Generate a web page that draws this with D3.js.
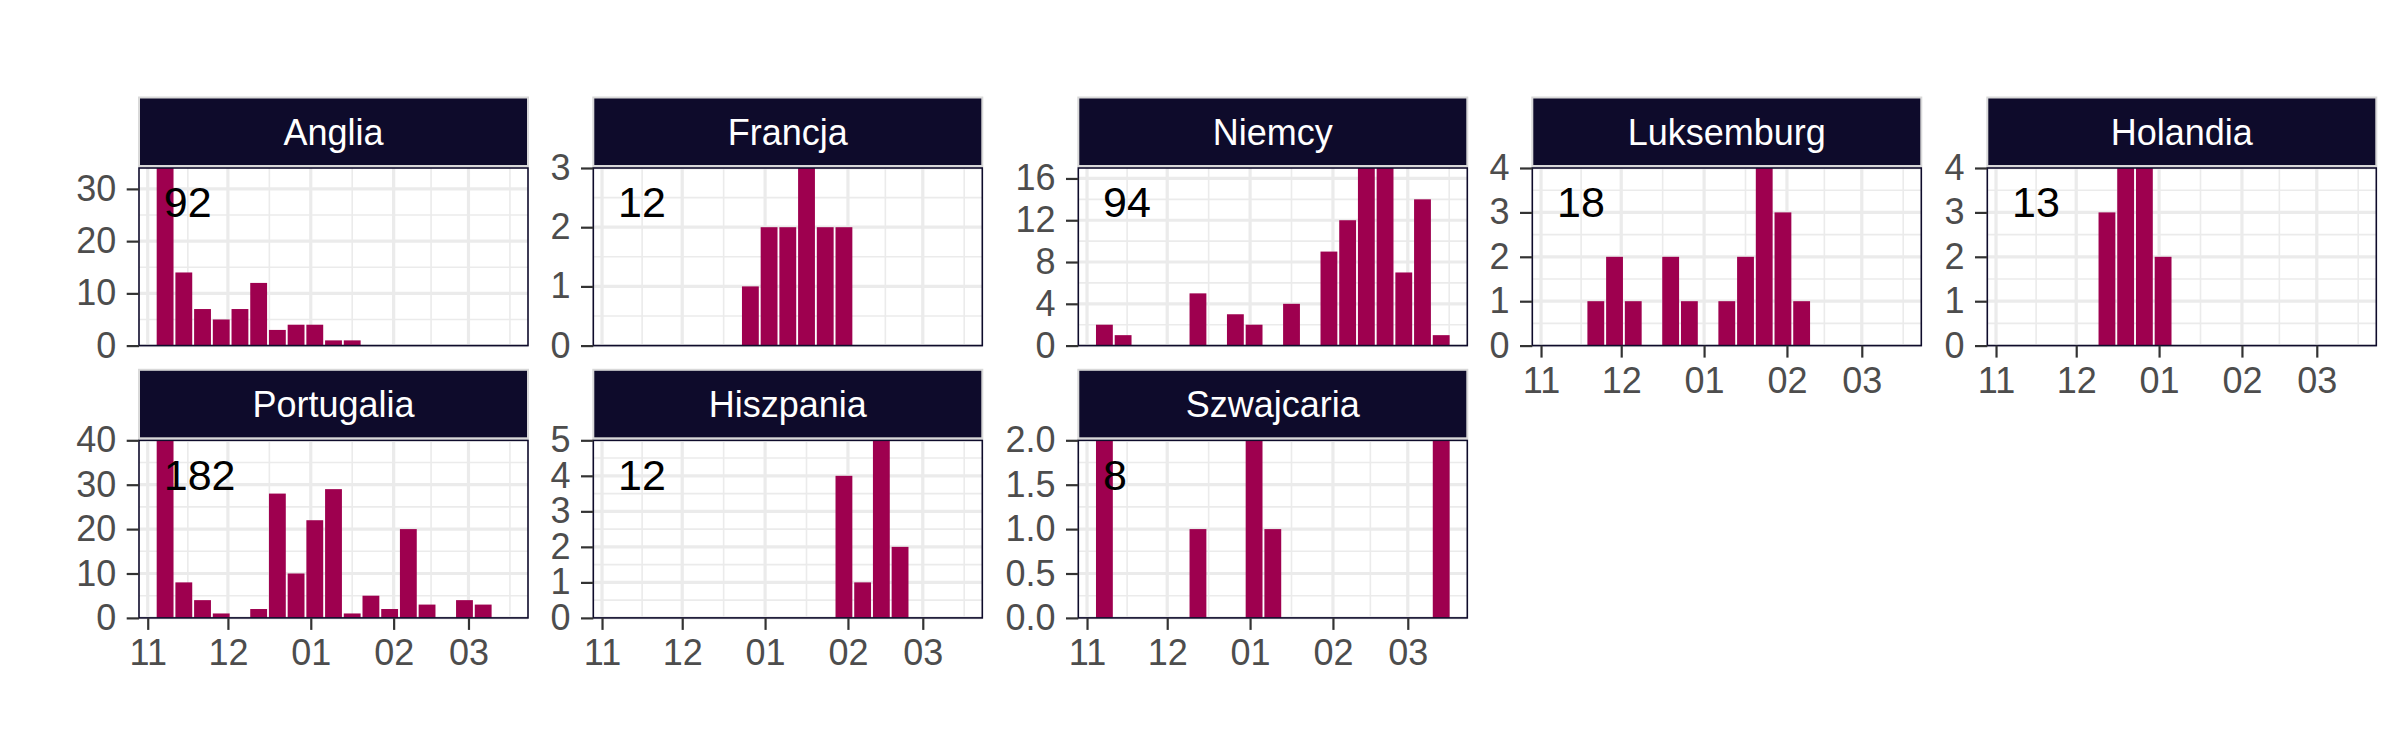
<!DOCTYPE html>
<html>
<head>
<meta charset="utf-8">
<script src="https://cdn.jsdelivr.net/npm/d3@7"></script>
<style>
  body { margin: 0; background: #fff; }
  svg { display: block; font-family: "Liberation Sans", Arial, sans-serif; }
</style>
</head>
<body>
<svg width="2400" height="750"></svg>
<script>
// weekly bins (week start, Monday)
const weeks = ["2022-11-07", "2022-11-14", "2022-11-21", "2022-11-28", "2022-12-05",
  "2022-12-12", "2022-12-19", "2022-12-26", "2023-01-02", "2023-01-09", "2023-01-16",
  "2023-01-23", "2023-01-30", "2023-02-06", "2023-02-13", "2023-02-20", "2023-02-27",
  "2023-03-06", "2023-03-13"];

const countries = ["Anglia", "Francja", "Niemcy", "Luksemburg", "Holandia",
  "Portugalia", "Hiszpania", "Szwajcaria"];

const anglia     = [34, 14, 7, 5, 7, 12, 3, 4, 4, 1, 1, 0, 0, 0, 0, 0, 0, 0, 0];
const francja    = [0, 0, 0, 0, 0, 0, 0, 1, 2, 2, 3, 2, 2, 0, 0, 0, 0, 0, 0];
const niemcy     = [2, 1, 0, 0, 0, 5, 0, 3, 2, 0, 4, 0, 9, 12, 17, 17, 7, 14, 1];
const luksemburg = [0, 0, 1, 2, 1, 0, 2, 1, 0, 1, 2, 4, 3, 1, 0, 0, 0, 0, 0];
const holandia   = [0, 0, 0, 0, 0, 3, 4, 4, 2, 0, 0, 0, 0, 0, 0, 0, 0, 0, 0];
const portugalia = [40, 8, 4, 1, 0, 2, 28, 10, 22, 29, 1, 5, 2, 20, 3, 0, 4, 3, 0];
const hiszpania  = [0, 0, 0, 0, 0, 0, 0, 0, 0, 0, 0, 0, 4, 1, 5, 2, 0, 0, 0];
const szwajcaria = [2, 0, 0, 0, 0, 1, 0, 0, 2, 1, 0, 0, 0, 0, 0, 0, 0, 0, 2];

const series = [anglia, francja, niemcy, luksemburg, holandia, portugalia, hiszpania, szwajcaria];

const yTicks = [
  [0, 10, 20, 30],
  [0, 1, 2, 3],
  [0, 4, 8, 12, 16],
  [0, 1, 2, 3, 4],
  [0, 1, 2, 3, 4],
  [0, 10, 20, 30, 40],
  [0, 1, 2, 3, 4, 5],
  [0, 0.5, 1, 1.5, 2]
];

// layout
const colLeft = [139, 593.3, 1078.3, 1532.3, 1987.3];
const rowTop = [168, 440.3];
const panelW = 389, panelH = 177.6;
const nCols = 5;

const barColor = "#9e004f";
const stripColor = "#0e0b2b";
const gridColor = "#ebebeb";

const parse = d3.timeParse("%Y-%m-%d");
// bars are centred half a day after the week start
const dates = weeks.map(w => d3.timeHour.offset(parse(w), 12));
const DAY = 864e5;
const halfBar = 0.9 * 7 * DAY / 2;
const lo = +dates[0] - halfBar, hi = +dates[dates.length - 1] + halfBar;
const pad = (hi - lo) * 0.05;

const x = d3.scaleTime()
  .domain([new Date(lo - pad), new Date(hi + pad)])
  .range([0, panelW]);

const monthTicks = d3.timeMonth.range(new Date(2022, 10, 1), new Date(2023, 3, 1));
const monthMinor = monthTicks.map(m => new Date((+m + +d3.timeMonth.offset(m, 1)) / 2));

const svg = d3.select("svg");

countries.forEach(function(name, i) {
  const col = i % nCols, row = Math.floor(i / nCols);
  const values = series[i];
  const ticks = yTicks[i];
  const hasBelow = i + nCols < countries.length;

  const y = d3.scaleLinear()
    .domain([0, d3.max(values)])
    .range([panelH, 0]);

  const g = svg.append("g")
    .attr("transform", "translate(" + colLeft[col] + "," + rowTop[row] + ")");

  g.append("rect")
    .attr("width", panelW).attr("height", panelH)
    .attr("fill", "#fff");

  // minor grid
  const yMinor = d3.pairs(ticks).map(p => (p[0] + p[1]) / 2);
  g.selectAll(".ymin").data(yMinor).enter().append("line")
    .attr("x1", 0).attr("x2", panelW)
    .attr("y1", d => y(d)).attr("y2", d => y(d))
    .attr("stroke", gridColor).attr("stroke-width", 1.6);
  g.selectAll(".xmin").data(monthMinor.filter(d => x(d) > 0 && x(d) < panelW)).enter().append("line")
    .attr("y1", 0).attr("y2", panelH)
    .attr("x1", d => x(d)).attr("x2", d => x(d))
    .attr("stroke", gridColor).attr("stroke-width", 1.6);

  // major grid
  g.selectAll(".ymaj").data(ticks).enter().append("line")
    .attr("x1", 0).attr("x2", panelW)
    .attr("y1", d => y(d)).attr("y2", d => y(d))
    .attr("stroke", gridColor).attr("stroke-width", 3.2);
  g.selectAll(".xmaj").data(monthTicks).enter().append("line")
    .attr("y1", 0).attr("y2", panelH)
    .attr("x1", d => x(d)).attr("x2", d => x(d))
    .attr("stroke", gridColor).attr("stroke-width", 3.2);

  // bars
  g.selectAll(".bar").data(values.map((v, k) => ({date: dates[k], v: v})).filter(d => d.v > 0))
    .enter().append("rect")
    .attr("x", d => x(new Date(+d.date - halfBar)))
    .attr("width", d => x(new Date(+d.date + halfBar)) - x(new Date(+d.date - halfBar)))
    .attr("y", d => y(d.v))
    .attr("height", d => y(0) - y(d.v))
    .attr("fill", barColor);

  // total label
  g.append("text")
    .attr("x", x(parse(weeks[0])))
    .attr("y", y(d3.max(values) * 0.8))
    .attr("dy", "0.32em")
    .attr("font-size", 43)
    .attr("fill", "#000")
    .text(d3.sum(values));

  // panel border
  g.append("rect")
    .attr("width", panelW).attr("height", panelH)
    .attr("fill", "none")
    .attr("stroke", stripColor).attr("stroke-width", 1.6);

  // strip
  g.append("rect")
    .attr("x", 0).attr("y", -70.5)
    .attr("width", panelW).attr("height", 68.5)
    .attr("fill", stripColor)
    .attr("stroke", "#d9d9d9").attr("stroke-width", 2);
  g.append("text")
    .attr("x", panelW / 2).attr("y", -36.3)
    .attr("dy", "0.36em")
    .attr("text-anchor", "middle")
    .attr("font-size", 36)
    .attr("fill", "#fff")
    .text(name);

  // y axis
  const fmt = ticks.some(t => t % 1 !== 0) ? d3.format(".1f") : d3.format("d");
  const yAxis = g.append("g")
    .call(d3.axisLeft(y).tickValues(ticks).tickFormat(fmt).tickSize(12.3).tickPadding(10.5));
  yAxis.select(".domain").remove();
  yAxis.selectAll(".tick line").attr("stroke", "#333").attr("stroke-width", 2.2);
  yAxis.selectAll(".tick text")
    .attr("fill", "#4d4d4d").attr("font-size", 36)
    .attr("font-family", "'Liberation Sans', Arial, sans-serif");

  // x axis only where no panel sits below
  if (!hasBelow) {
    const xAxis = g.append("g")
      .attr("transform", "translate(0," + panelH + ")")
      .call(d3.axisBottom(x).tickValues(monthTicks).tickFormat(d3.timeFormat("%m")).tickSize(12).tickPadding(10));
    xAxis.select(".domain").remove();
    xAxis.selectAll(".tick line").attr("stroke", "#333").attr("stroke-width", 2.2);
    xAxis.selectAll(".tick text")
      .attr("fill", "#4d4d4d").attr("font-size", 36)
      .attr("font-family", "'Liberation Sans', Arial, sans-serif");
  }
});
</script>
</body>
</html>
